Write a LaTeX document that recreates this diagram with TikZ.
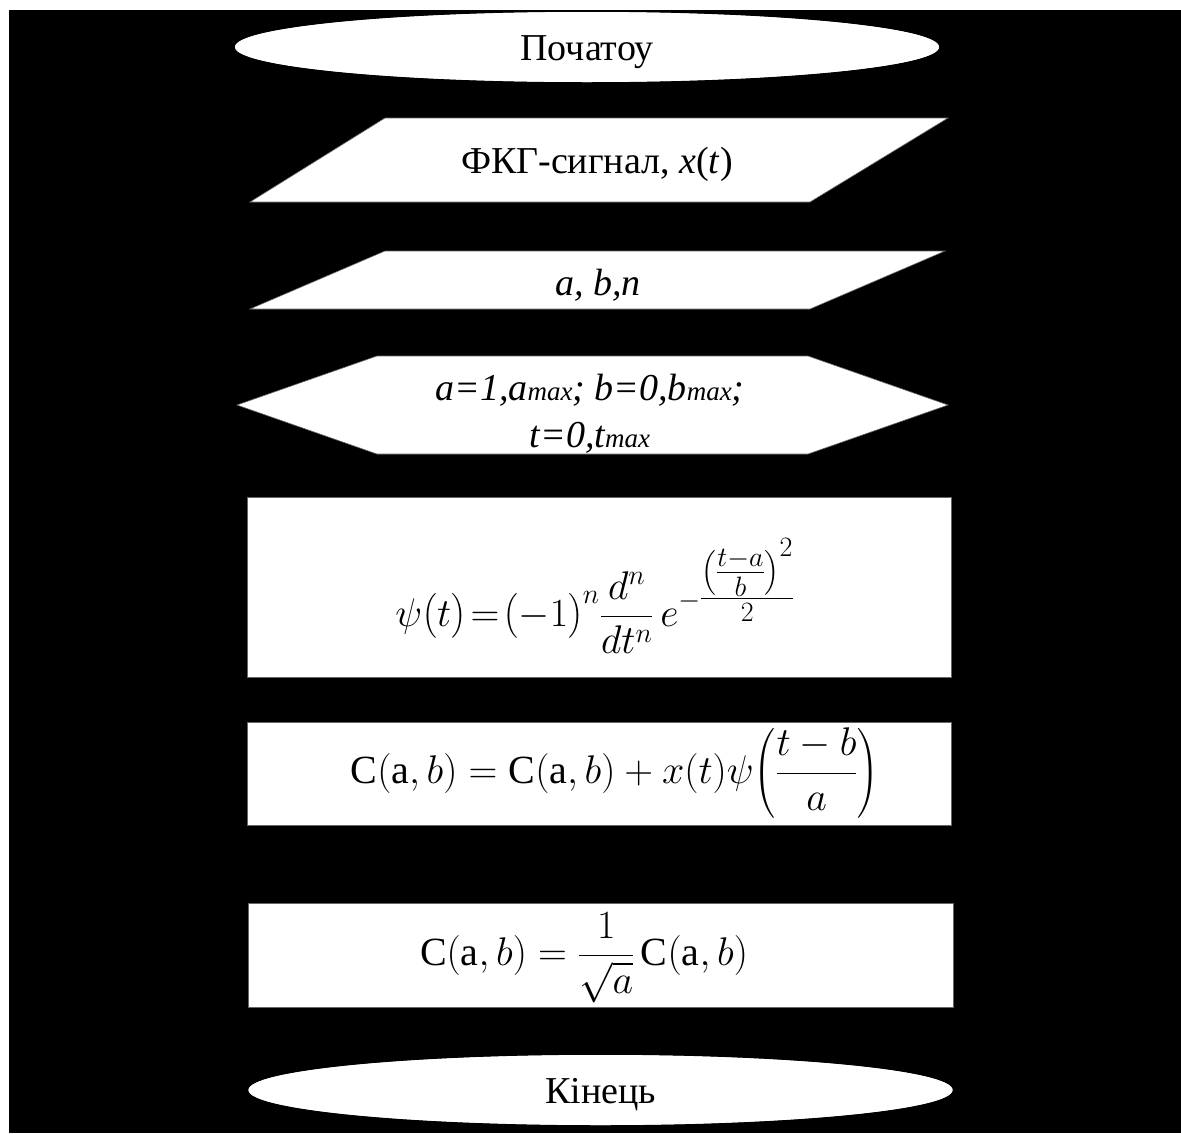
\RequirePackage{fix-cm}
\documentclass[tikz,border=0pt]{standalone}
\usepackage{fontspec}
\setmainfont{Liberation Serif}
\usepackage{amsmath}
\usetikzlibrary{arrows.meta,shapes.geometric}
\begin{document}
\begin{tikzpicture}[x=1pt,y=-1pt,
  term/.style={ellipse,fill=white,inner sep=0pt,minimum width=704pt,minimum height=70pt,
     font=\fontsize{38}{44}\selectfont},
  procbox/.style={rectangle,fill=white,draw=black!60,line width=0.8pt,inner sep=0pt,minimum width=704pt},
  shapefill/.style={fill=white,draw=black!60,line width=0.6pt},
  lbl/.style={inner sep=0pt,text=black},
  conn/.style={draw=black,line width=1pt,-{Stealth[length=8pt]}}]
\useasboundingbox (0,0) rectangle (1181,1133);
\fill[black] (9,10) rectangle (1181,1133);

% anchors of the shapes
\coordinate (in1top) at (598,118);
\coordinate (in1bot) at (530,202);
\coordinate (in2top) at (598,251);
\coordinate (in2bot) at (530,309);
\coordinate (looptop) at (598,356);
\coordinate (loopbot) at (598,454);

% connectors (black on black, as in the original)
\node[term] (start) at (587,47) {};
\node[procbox,minimum height=180pt] (p1) at (599,587) {};
\node[procbox,minimum height=103pt] (p2) at (599,773.5) {};
\node[procbox,minimum height=104pt,minimum width=705pt] (p3) at (600.5,955) {};
\node[term] (stop) at (600.5,1090) {};
\draw[conn] (start) -- (in1top);
\draw[conn] (in1bot) -- (in2top);
\draw[conn] (in2bot) -- (looptop);
\draw[conn] (loopbot) -- (p1);
\draw[conn] (p1) -- (p2);
\draw[conn] (p2) -- (p3);
\draw[conn] (p3) -- (stop);

% shapes
\node[term] at (start) {};
\node[lbl,font=\fontsize{38}{44}\selectfont] (startt) at (587,52) {Початоу};
\path[shapefill] (385,118) -- (948,118) -- (810,202) -- (250,202) -- cycle;
\node[lbl,font=\fontsize{38}{44}\selectfont] (in1) at (597,164) {ФКГ-сигнал, \textit{x}(\textit{t})};
\path[shapefill] (385,251) -- (945,251) -- (810,309) -- (250,309) -- cycle;
\node[lbl,font=\fontsize{38}{44}\itshape] (in2) at (598,285) {a, b,n};
\path[shapefill] (237,405) -- (377,356) -- (808,356) -- (948,405) -- (808,454) -- (377,454) -- cycle;
\node[lbl,font=\fontsize{38}{47}\itshape,align=center] (loop) at (590,414)
  {a=1,a{\fontsize{27}{30}\selectfont max}; b=0,b{\fontsize{27}{30}\selectfont max};\\
   t=0,t{\fontsize{27}{30}\selectfont max}};

\node[procbox,minimum height=180pt] at (p1) {};
\node[lbl,font=\fontsize{40}{46}\selectfont] (p1t) at (595,596)
  {$\displaystyle \psi\bigl(t\bigr)\!=\!\bigl(-1\bigr)^{n}\frac{d^{n}}{dt^{n}}\,e^{-\genfrac{}{}{}{1}{\bigl(\genfrac{}{}{}{1}{\scriptstyle t-a}{\scriptstyle b}\bigr)^{\scriptstyle 2}}{\scriptstyle 2}}$};
\node[procbox,minimum height=103pt] at (p2) {};
\node[lbl,font=\fontsize{40}{46}\selectfont] (p2t) at (615,773)
  {$\mathrm{C}(\mathrm{a},b)=\mathrm{C}(\mathrm{a},b)+x(t)\psi\!\left(\dfrac{t-b}{a}\right)$};
\node[procbox,minimum height=104pt,minimum width=705pt] at (p3) {};
\node[lbl,font=\fontsize{40}{46}\selectfont] (p3t) at (584,958)
  {$\mathrm{C}(\mathrm{a},b)=\dfrac{1}{\sqrt{a}}\,\mathrm{C}(\mathrm{a},b)$};
\node[term] at (stop) {};
\node[lbl,font=\fontsize{38}{44}\selectfont] (stopt) at (600.5,1095) {Кінець};
\end{tikzpicture}
\end{document}
